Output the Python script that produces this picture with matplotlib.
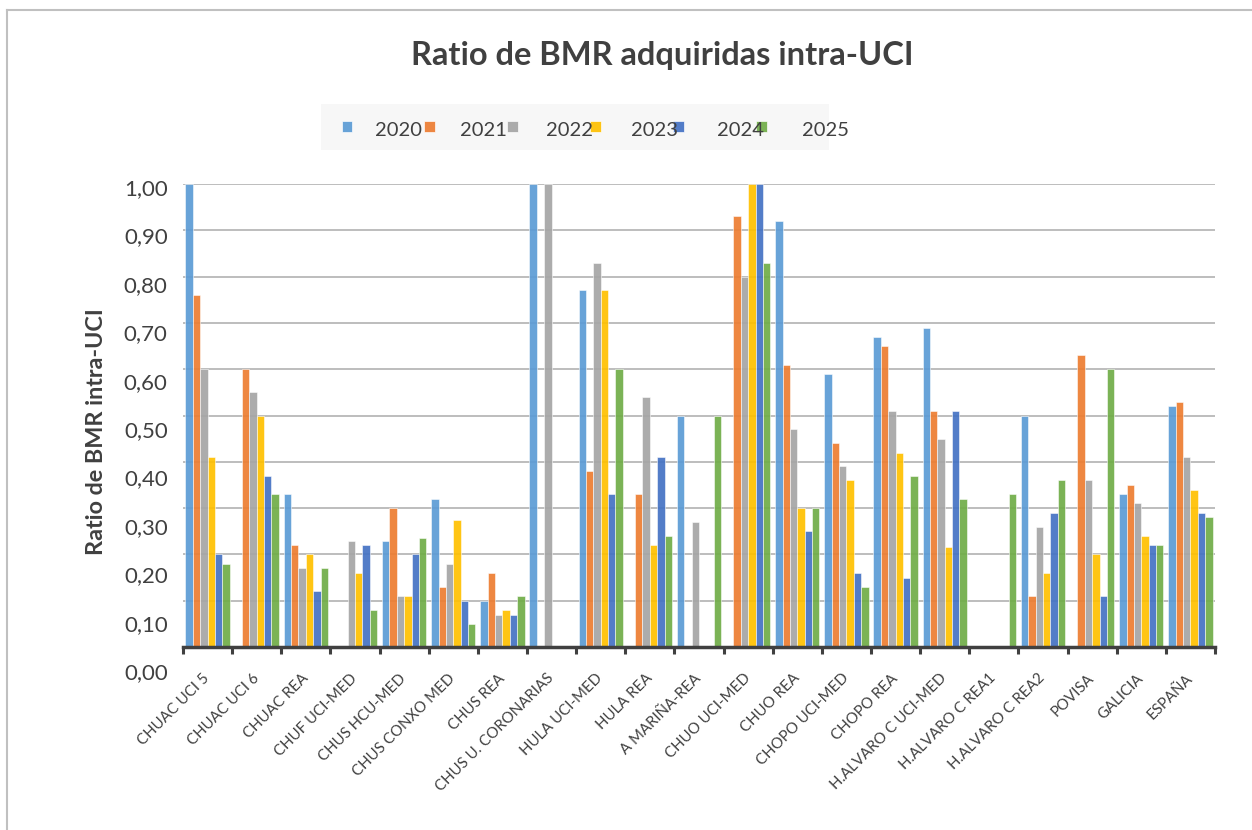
import matplotlib
matplotlib.use("Agg")
import matplotlib.pyplot as plt
import numpy as np
from matplotlib.patches import Rectangle
from matplotlib.lines import Line2D
from matplotlib.transforms import ScaledTranslation

plt.rcParams['font.family'] = ['Lato', 'DejaVu Sans']

categories = ["CHUAC UCI 5", "CHUAC UCI 6", "CHUAC REA", "CHUF UCI-MED", "CHUS HCU-MED",
              "CHUS CONXO MED", "CHUS REA", "CHUS U. CORONARIAS", "HULA UCI-MED", "HULA REA",
              "A MARIÑA-REA", "CHUO UCI-MED", "CHUO REA", "CHOPO UCI-MED", "CHOPO REA",
              "H.ALVARO C UCI-MED", "H.ALVARO C REA1", "H.ALVARO C REA2", "POVISA", "GALICIA", "ESPAÑA"]
years = ["2020", "2021", "2022", "2023", "2024", "2025"]
nan = np.nan
v2020 = [1.00, nan, 0.33, nan, 0.23, 0.32, 0.10, 1.00, 0.77, nan, 0.50, nan, 0.92, 0.59, 0.67, 0.69, nan, 0.50, nan, 0.33, 0.52]
v2021 = [0.76, 0.60, 0.22, nan, 0.30, 0.13, 0.16, nan, 0.38, 0.33, nan, 0.93, 0.61, 0.44, 0.65, 0.51, nan, 0.11, 0.63, 0.35, 0.53]
v2022 = [0.60, 0.55, 0.17, 0.23, 0.11, 0.18, 0.07, 1.00, 0.83, 0.54, 0.27, 0.80, 0.47, 0.39, 0.51, 0.45, nan, 0.26, 0.36, 0.31, 0.41]
v2023 = [0.41, 0.50, 0.20, 0.16, 0.11, 0.275, 0.08, nan, 0.77, 0.22, nan, 1.00, 0.30, 0.36, 0.42, 0.215, nan, 0.16, 0.20, 0.24, 0.34]
v2024 = [0.20, 0.37, 0.12, 0.22, 0.20, 0.10, 0.07, nan, 0.33, 0.41, nan, 1.00, 0.25, 0.16, 0.15, 0.51, nan, 0.29, 0.11, 0.22, 0.29]
v2025 = [0.18, 0.33, 0.17, 0.08, 0.235, 0.05, 0.11, nan, 0.60, 0.24, 0.50, 0.83, 0.30, 0.13, 0.37, 0.32, 0.33, 0.36, 0.60, 0.22, 0.28]
series = [v2020, v2021, v2022, v2023, v2024, v2025]
colors = ["#5B9BD5", "#ED7D31", "#A5A5A5", "#FFC000", "#4472C4", "#70AD47"]
yticks = [0.0, 0.1, 0.2, 0.3, 0.4, 0.5, 0.6, 0.7, 0.8, 0.9, 1.0]

W, H = 1252, 830
fig = plt.figure(figsize=(W / 100, H / 100), dpi=100)
fig.patch.set_facecolor("white")

def fx(px):
    return px / W

def fy(py):
    return 1 - py / H

ax = fig.add_axes([fx(183), fy(647), (1215 - 183) / W, (647 - 184) / H])
ax.set_facecolor("white")

x = np.arange(len(categories))
bw = 0.15
for i, (vals, c) in enumerate(zip(series, colors)):
    ax.bar(x + (i - 2.5) * bw, vals, width=bw, color=c, alpha=0.92,
           edgecolor="white", linewidth=0.4, zorder=3)

ax.set_xlim(-0.5, len(categories) - 0.5)
ax.set_ylim(0, 1.0)
ax.set_yticks(yticks)
ax.set_yticklabels([f"{v:.2f}".replace(".", ",") for v in yticks])
ax.yaxis.grid(True, color="#b8b8b8", linewidth=1.3, zorder=0)
ax.set_axisbelow(True)
for s in ["top", "right", "left"]:
    ax.spines[s].set_visible(False)
ax.spines["bottom"].set_color("#404040")
ax.spines["bottom"].set_linewidth(2.5)
ax.spines["bottom"].set_zorder(5)
ax.tick_params(axis="y", length=0, pad=11, labelsize=16, labelcolor="#404040")

ax.set_xticks(x)
ax.set_xticklabels(categories, rotation=45, ha="right", va="center",
                   rotation_mode="anchor", fontsize=10.8, color="#404040")
ax.tick_params(axis="x", which="major", length=0, pad=21)
ax.set_xticks(np.arange(-0.5, len(categories), 1.0), minor=True)
ax.tick_params(axis="x", which="minor", length=5, width=2.2, color="#404040", direction="out")

for tick, v in zip(ax.yaxis.get_major_ticks(), yticks):
    off = -(3 + (1 - v) * 21) / 100
    tick.label1.set_transform(tick.label1.get_transform() + ScaledTranslation(0, off, fig.dpi_scale_trans))

ax.set_ylabel("Ratio de BMR intra-UCI", fontsize=16.8, fontweight="bold", color="#404040")
ax.yaxis.set_label_coords((107 - 183) / (1215 - 183), 0.465)

fig.text(fx(662), fy(55), "Ratio de BMR adquiridas intra-UCI", ha="center", va="center",
         fontsize=23.5, fontweight="bold", color="#404040")

# legend (manual, Excel-like layout)
fig.patches.append(Rectangle((fx(321), fy(150)), (829 - 321) / W, (150 - 104) / H,
                             transform=fig.transFigure, facecolor="#f7f7f7", edgecolor="none", zorder=1))
for i, (yr, c) in enumerate(zip(years, colors)):
    mx = 347 + i * 82.8
    fig.patches.append(Rectangle((fx(mx - 5.5), fy(131.5)), 11 / W, 11 / H, transform=fig.transFigure,
                                 facecolor=c, edgecolor="white", linewidth=0.5, alpha=0.92, zorder=2))
    fig.text(fx(375 + i * 85.4), fy(131), yr, ha="left", va="center", fontsize=14.5,
             color="#404040", zorder=3)

# chart border (top and left visible)
fig.add_artist(Line2D([fx(7), fx(W)], [fy(10), fy(10)], transform=fig.transFigure, color="#c0c0c0", linewidth=1.5))
fig.add_artist(Line2D([fx(7), fx(7)], [fy(10), fy(H)], transform=fig.transFigure, color="#c0c0c0", linewidth=1.5))

fig.savefig("out.png", dpi=100)
